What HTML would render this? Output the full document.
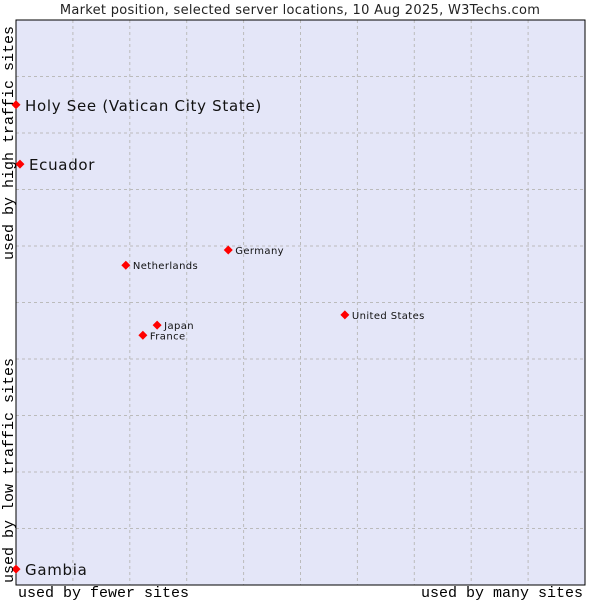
<!DOCTYPE html>
<html><head><meta charset="utf-8"><style>
html,body{margin:0;padding:0;background:#fff;width:600px;height:600px;overflow:hidden}
</style></head><body>
<svg width="600" height="600" xmlns="http://www.w3.org/2000/svg">
<text x="300" y="14" text-anchor="middle" font-family="DejaVu Sans, sans-serif" font-size="13" letter-spacing="0.3" fill="#222">Market position, selected server locations, 10 Aug 2025, W3Techs.com</text>
<rect x="16" y="20" width="569" height="565" fill="#e4e6f8"/>
<g id="grid"></g>
<rect x="16" y="20" width="569" height="565" fill="none" stroke="#000" stroke-width="1"/>
<g id="points"></g>
<text x="18" y="597" font-family="Liberation Mono, monospace" font-size="15" fill="#000">used by fewer sites</text>
<text x="583" y="597" text-anchor="end" font-family="Liberation Mono, monospace" font-size="15" fill="#000">used by many sites</text>
<text transform="translate(13,583) rotate(-90)" font-family="Liberation Mono, monospace" font-size="15" fill="#000">used by low traffic sites</text>
<text transform="translate(13,260) rotate(-90)" font-family="Liberation Mono, monospace" font-size="15" fill="#000">used by high traffic sites</text>
</svg>
<script>
const names=["Holy See (Vatican City State)","Ecuador","Germany","Netherlands","United States","Japan","France","Gambia"];
const xVals=[0,0.7,37.3,19.3,57.8,24.8,22.3,0];
const yVals=[85.0,74.5,59.3,56.6,47.8,46.0,44.2,2.8];
const big=[true,true,false,false,false,false,false,true];
const L=16,R=585,T=20,B=585;
const sx=v=>L+v/100*(R-L), sy=v=>B-v/100*(B-T);
const NS="http://www.w3.org/2000/svg";
const grid=document.getElementById('grid');
for(let i=1;i<10;i++){
  const v=document.createElementNS(NS,'line');
  
  
  const gx=sx(i*10);
  v.setAttribute('x1',gx);v.setAttribute('x2',gx);v.setAttribute('y1',T);v.setAttribute('y2',B);
  v.setAttribute('stroke','#bbb');v.setAttribute('stroke-dasharray','3,3');
  grid.appendChild(v);
  const h=document.createElementNS(NS,'line');
  
  
  const gy=sy(i*10);
  h.setAttribute('x1',L);h.setAttribute('x2',R);h.setAttribute('y1',gy);h.setAttribute('y2',gy);
  h.setAttribute('stroke','#bbb');h.setAttribute('stroke-dasharray','3,3');
  grid.appendChild(h);
}
const pts=document.getElementById('points');
names.forEach((n,i)=>{
  const x=sx(xVals[i]),y=sy(yVals[i]);
  const m=document.createElementNS(NS,'path');
  
  
  m.setAttribute('d',`M${x-4.5},${y}L${x},${y-4.5}L${x+4.5},${y}L${x},${y+4.5}Z`);
  m.setAttribute('fill','#f00');
  pts.appendChild(m);
  const t=document.createElementNS(NS,'text');
  
  
  t.setAttribute('x',x+(big[i]?9:7));
  t.setAttribute('y',y+(big[i]?6:4));
  t.setAttribute('font-family','DejaVu Sans, sans-serif');
  t.setAttribute('font-size',big[i]?'15':'10');
  t.setAttribute('letter-spacing',big[i]?'0.7':'0.4');
  t.setAttribute('fill','#111');
  t.textContent=n;
  pts.appendChild(t);
});
</script>
</body></html>
